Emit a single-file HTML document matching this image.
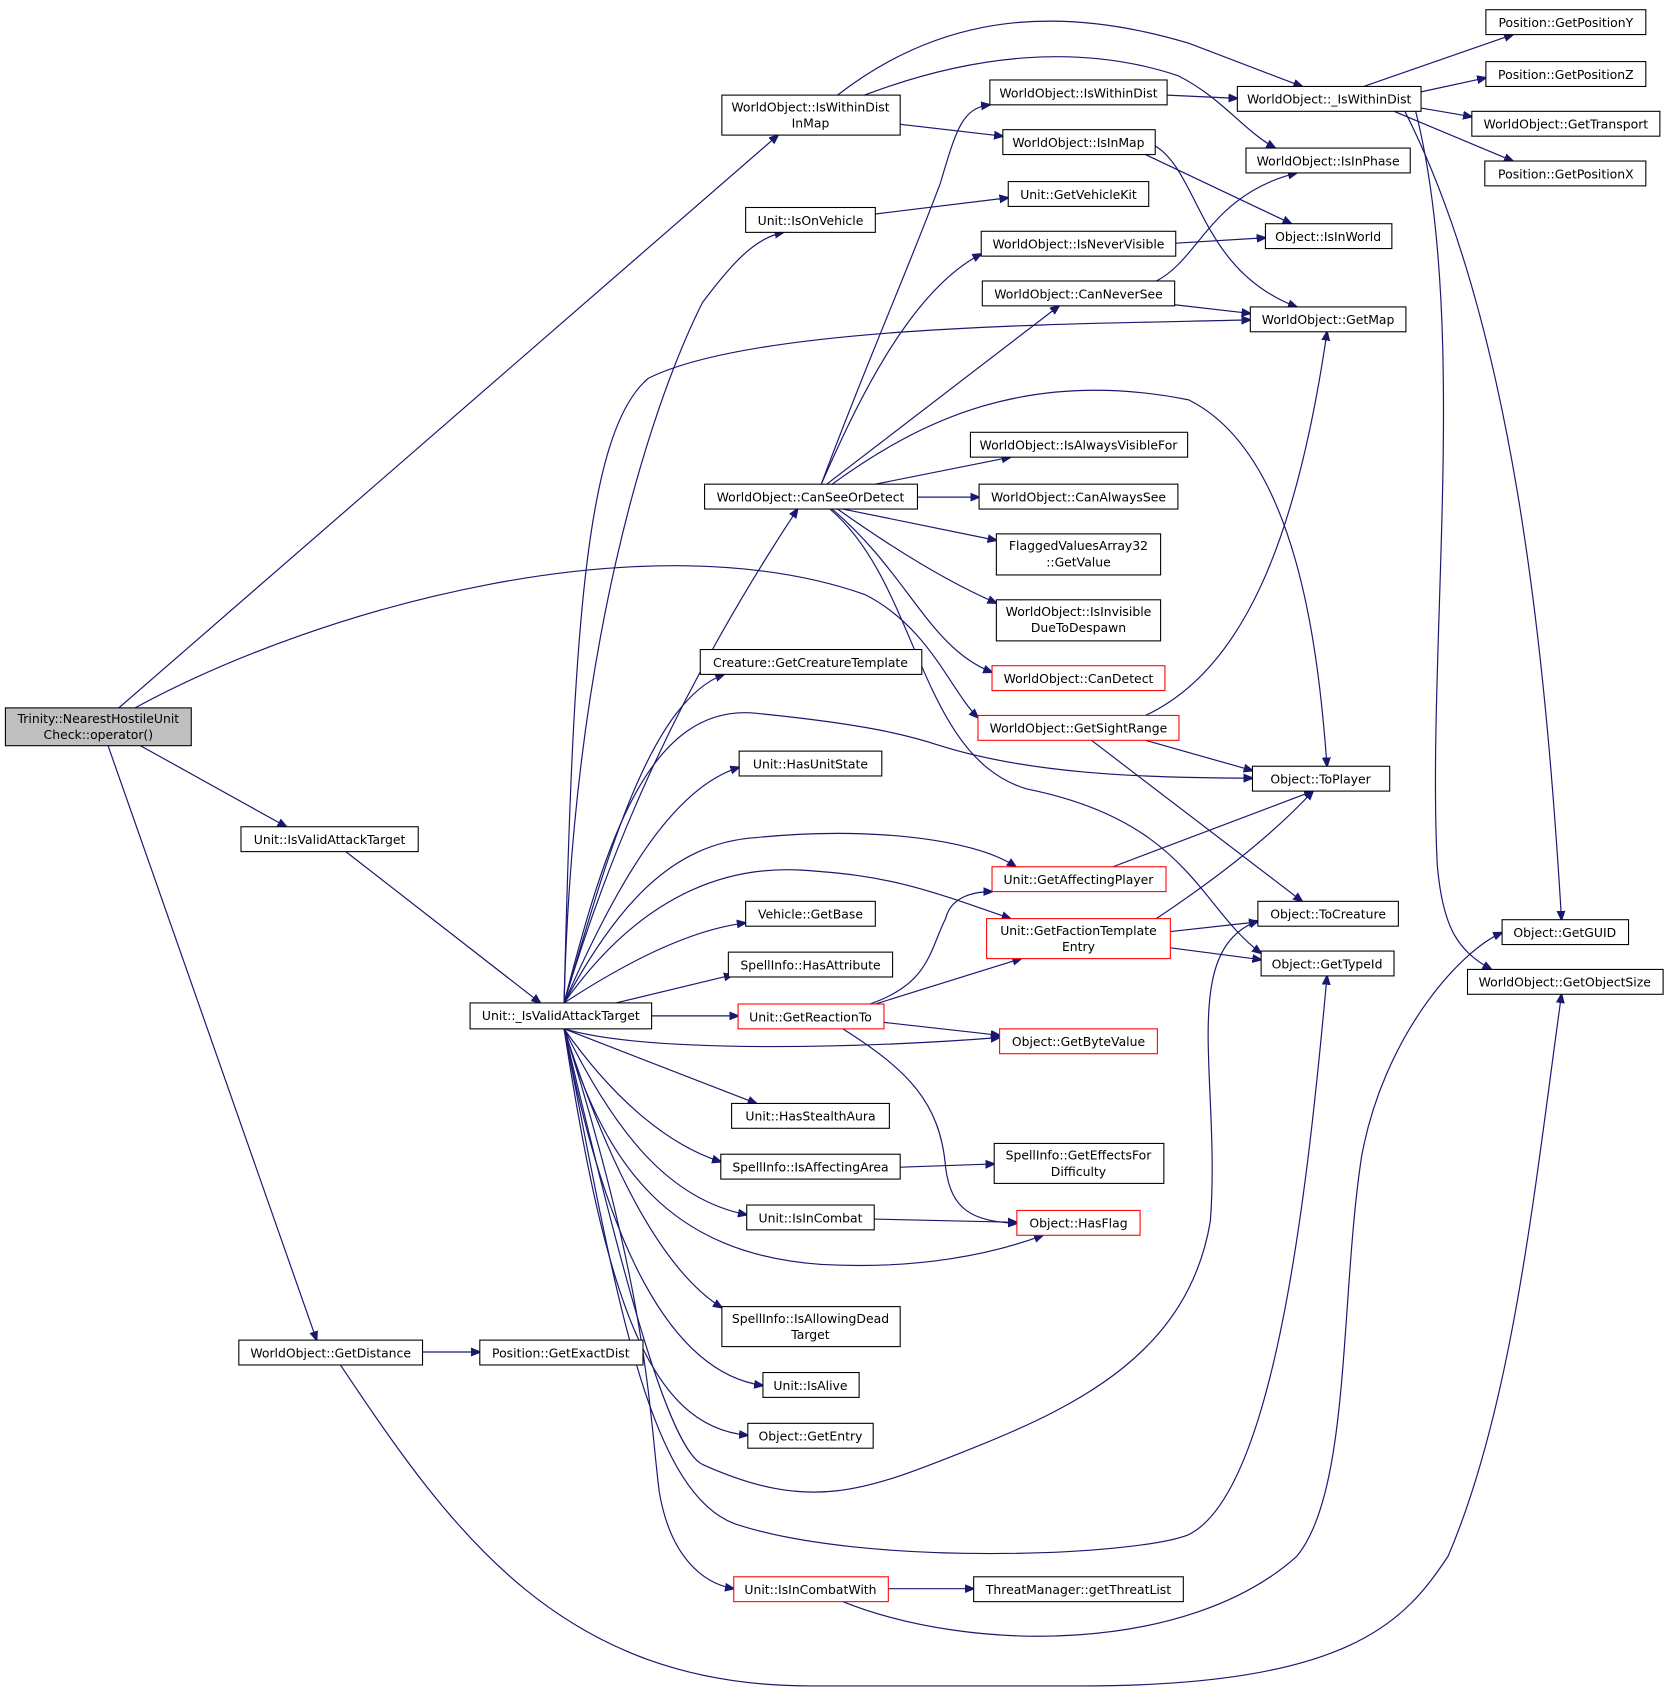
<!DOCTYPE html>
<html><head><meta charset="utf-8"><style>
html,body{margin:0;padding:0;background:#fff}
svg{display:block}
text{font-family:"DejaVu Sans","Liberation Sans",sans-serif;font-size:11.5px;fill:#000}
.b{fill:#fff;stroke:#000;stroke-width:1}
.r{fill:#fff;stroke:#f00;stroke-width:1}
.e{fill:none;stroke:#191970;stroke-width:1.1;marker-end:url(#a)}
</style></head><body>
<svg width="1675" height="1700" viewBox="0 0 1550 1573" preserveAspectRatio="none">
<defs><marker id="a" viewBox="0 0 10 10" refX="9" refY="5" markerWidth="9" markerHeight="9" markerUnits="userSpaceOnUse" orient="auto"><path d="M0,1 L10,5 L0,9 z" fill="#191970" stroke="#191970"/></marker></defs>
<g>
<path class="e" d="M110,655 L720,125"/>
<path class="e" d="M125,655 C300,560 600,480 800,550 C860,580 880,640 905,664"/>
<path class="e" d="M130,690 L265,765"/>
<path class="e" d="M100,690 L293,1240"/>
<path class="e" d="M320,788 L500,928"/>
<path class="e" d="M391,1251 L444,1251"/>
<path class="e" d="M315,1263 C420,1420 520,1560 750,1560 L1000,1560 C1250,1560 1300,1500 1340,1440 C1400,1300 1420,1100 1445,920"/>
<path class="e" d="M775,88 C850,30 950,-5 1100,40 L1205,80"/>
<path class="e" d="M800,88 C900,50 1000,40 1090,70 C1130,90 1150,120 1180,137"/>
<path class="e" d="M833,115 L928,126"/>
<path class="e" d="M1080,88 L1145,91"/>
<path class="e" d="M1262,80 L1400,32"/>
<path class="e" d="M1315,85 L1375,72"/>
<path class="e" d="M1315,100 L1362,108"/>
<path class="e" d="M1290,103 L1400,149"/>
<path class="e" d="M1300,103 C1400,300 1430,600 1445,851"/>
<path class="e" d="M1310,103 C1360,300 1320,600 1330,800 C1335,860 1350,880 1380,897"/>
<path class="e" d="M1060,143 L1195,207"/>
<path class="e" d="M1069,135 C1110,160 1110,250 1200,284"/>
<path class="e" d="M810,198 L933,183"/>
<path class="e" d="M1088,225 L1171,220"/>
<path class="e" d="M1070,260 C1110,240 1120,180 1200,160"/>
<path class="e" d="M1087,282 L1157,290"/>
<path class="e" d="M760,448 C800,340 840,250 870,170 C885,120 890,100 916,97"/>
<path class="e" d="M760,448 C790,380 840,270 908,235"/>
<path class="e" d="M765,448 L980,283"/>
<path class="e" d="M810,448 L935,423"/>
<path class="e" d="M849,460 L906,460"/>
<path class="e" d="M780,471 L922,500"/>
<path class="e" d="M775,471 C830,510 880,540 922,558"/>
<path class="e" d="M770,471 C840,530 860,600 918,622"/>
<path class="e" d="M770,448 C850,390 950,340 1100,370 C1200,420 1220,600 1228,709"/>
<path class="e" d="M768,471 C850,540 850,700 950,730 C1100,760 1110,840 1167,882"/>
<path class="e" d="M522,928 C530,600 600,380 650,280 C680,240 700,220 725,215"/>
<path class="e" d="M522,928 C530,600 540,400 600,350 C700,300 1000,300 1157,296"/>
<path class="e" d="M522,928 C560,800 620,650 738,471"/>
<path class="e" d="M522,928 C560,800 600,650 670,624"/>
<path class="e" d="M522,928 C560,780 600,650 700,660 C800,670 840,680 870,690 C950,715 1050,720 1159,720"/>
<path class="e" d="M522,928 C570,820 620,730 684,710"/>
<path class="e" d="M522,928 C570,840 620,780 700,775 C800,765 900,775 940,802"/>
<path class="e" d="M522,928 C570,860 640,800 740,805 C820,810 850,820 935,850"/>
<path class="e" d="M522,928 C580,890 640,860 690,854"/>
<path class="e" d="M570,928 L678,902"/>
<path class="e" d="M603,940 L683,940"/>
<path class="e" d="M522,952 C600,975 800,970 925,960"/>
<path class="e" d="M522,952 L700,1021"/>
<path class="e" d="M522,952 C570,1020 620,1060 667,1075"/>
<path class="e" d="M522,952 C570,1050 620,1110 691,1124"/>
<path class="e" d="M522,952 C560,1080 620,1160 760,1170 C850,1175 920,1160 965,1143"/>
<path class="e" d="M522,952 C570,1100 620,1180 668,1210"/>
<path class="e" d="M522,952 C560,1150 620,1270 706,1282"/>
<path class="e" d="M522,952 C560,1200 600,1320 692,1328"/>
<path class="e" d="M522,952 C600,1200 600,1300 610,1380 C620,1440 650,1465 679,1470"/>
<path class="e" d="M522,952 C580,1200 620,1340 650,1355 C750,1400 800,1380 900,1340 C1000,1300 1100,1250 1120,1130 C1130,1000 1090,880 1164,852"/>
<path class="e" d="M522,952 C570,1200 600,1380 680,1410 C800,1450 1050,1440 1100,1420 C1180,1380 1210,1100 1228,903"/>
<path class="e" d="M1060,662 C1150,620 1200,500 1228,307"/>
<path class="e" d="M1060,685 L1159,713"/>
<path class="e" d="M1010,685 L1205,834"/>
<path class="e" d="M1030,802 L1215,732"/>
<path class="e" d="M1070,850 C1130,810 1180,770 1215,732"/>
<path class="e" d="M1083,862 L1164,853"/>
<path class="e" d="M1083,877 L1167,888"/>
<path class="e" d="M805,929 C860,910 860,880 875,850 C880,830 900,825 918,825"/>
<path class="e" d="M810,929 L945,887"/>
<path class="e" d="M818,946 L925,958"/>
<path class="e" d="M780,952 C840,990 870,1020 875,1080 C880,1120 900,1130 941,1132"/>
<path class="e" d="M833,1080 L920,1077"/>
<path class="e" d="M809,1128 L941,1131"/>
<path class="e" d="M822,1470 L901,1470"/>
<path class="e" d="M780,1482 C900,1530 1100,1530 1200,1440 C1250,1380 1240,1200 1260,1070 C1280,960 1350,880 1390,863"/>
</g>
<g text-anchor="middle">
<rect x="5" y="655" width="172" height="35" fill="#bfbfbf" stroke="#000"/><text x="91" y="669">Trinity::NearestHostileUnit</text><text x="91" y="684">Check::operator()</text>
<rect class="b" x="668" y="88" width="165" height="37"/><text x="750" y="103">WorldObject::IsWithinDist</text><text x="750" y="118">InMap</text>
<rect class="b" x="223" y="765" width="164" height="23"/><text x="305" y="781">Unit::IsValidAttackTarget</text>
<rect class="b" x="221" y="1240" width="170" height="23"/><text x="306" y="1256">WorldObject::GetDistance</text>
<rect class="b" x="444" y="1240" width="151" height="23"/><text x="519" y="1256">Position::GetExactDist</text>
<rect class="b" x="435" y="928" width="168" height="24"/><text x="519" y="944">Unit::_IsValidAttackTarget</text>
<rect class="b" x="916" y="74" width="164" height="23"/><text x="998" y="90">WorldObject::IsWithinDist</text>
<rect class="b" x="928" y="120" width="141" height="23"/><text x="998" y="136">WorldObject::IsInMap</text>
<rect class="b" x="690" y="192" width="120" height="23"/><text x="750" y="208">Unit::IsOnVehicle</text>
<rect class="b" x="933" y="168" width="130" height="23"/><text x="998" y="184">Unit::GetVehicleKit</text>
<rect class="b" x="908" y="214" width="180" height="23"/><text x="998" y="230">WorldObject::IsNeverVisible</text>
<rect class="b" x="909" y="260" width="178" height="23"/><text x="998" y="276">WorldObject::CanNeverSee</text>
<rect class="b" x="652" y="448" width="197" height="23"/><text x="750" y="464">WorldObject::CanSeeOrDetect</text>
<rect class="b" x="898" y="400" width="201" height="23"/><text x="998" y="416">WorldObject::IsAlwaysVisibleFor</text>
<rect class="b" x="906" y="448" width="184" height="23"/><text x="998" y="464">WorldObject::CanAlwaysSee</text>
<rect class="b" x="922" y="494" width="152" height="38"/><text x="998" y="509">FlaggedValuesArray32</text><text x="998" y="524">::GetValue</text>
<rect class="b" x="922" y="555" width="152" height="38"/><text x="998" y="570">WorldObject::IsInvisible</text><text x="998" y="585">DueToDespawn</text>
<rect class="r" x="918" y="616" width="160" height="23"/><text x="998" y="632">WorldObject::CanDetect</text>
<rect class="r" x="905" y="662" width="186" height="23"/><text x="998" y="678">WorldObject::GetSightRange</text>
<rect class="b" x="648" y="601" width="205" height="23"/><text x="750" y="617">Creature::GetCreatureTemplate</text>
<rect class="b" x="684" y="695" width="132" height="23"/><text x="750" y="711">Unit::HasUnitState</text>
<rect class="r" x="918" y="802" width="161" height="23"/><text x="998" y="818">Unit::GetAffectingPlayer</text>
<rect class="r" x="913" y="850" width="170" height="37"/><text x="998" y="865">Unit::GetFactionTemplate</text><text x="998" y="880">Entry</text>
<rect class="b" x="690" y="834" width="120" height="23"/><text x="750" y="850">Vehicle::GetBase</text>
<rect class="b" x="674" y="881" width="152" height="23"/><text x="750" y="897">SpellInfo::HasAttribute</text>
<rect class="r" x="683" y="929" width="135" height="23"/><text x="750" y="945">Unit::GetReactionTo</text>
<rect class="r" x="925" y="952" width="146" height="23"/><text x="998" y="968">Object::GetByteValue</text>
<rect class="b" x="677" y="1021" width="146" height="23"/><text x="750" y="1037">Unit::HasStealthAura</text>
<rect class="b" x="667" y="1068" width="166" height="23"/><text x="750" y="1084">SpellInfo::IsAffectingArea</text>
<rect class="b" x="920" y="1058" width="157" height="37"/><text x="998" y="1073">SpellInfo::GetEffectsFor</text><text x="998" y="1088">Difficulty</text>
<rect class="b" x="691" y="1115" width="118" height="23"/><text x="750" y="1131">Unit::IsInCombat</text>
<rect class="r" x="941" y="1120" width="114" height="23"/><text x="998" y="1136">Object::HasFlag</text>
<rect class="b" x="668" y="1209" width="165" height="37"/><text x="750" y="1224">SpellInfo::IsAllowingDead</text><text x="750" y="1239">Target</text>
<rect class="b" x="706" y="1270" width="89" height="23"/><text x="750" y="1286">Unit::IsAlive</text>
<rect class="b" x="692" y="1317" width="116" height="23"/><text x="750" y="1333">Object::GetEntry</text>
<rect class="r" x="679" y="1459" width="143" height="23"/><text x="750" y="1475">Unit::IsInCombatWith</text>
<rect class="b" x="901" y="1459" width="194" height="23"/><text x="998" y="1475">ThreatManager::getThreatList</text>
<rect class="b" x="1145" y="80" width="170" height="23"/><text x="1230" y="96">WorldObject::_IsWithinDist</text>
<rect class="b" x="1153" y="137" width="152" height="23"/><text x="1229" y="153">WorldObject::IsInPhase</text>
<rect class="b" x="1171" y="207" width="117" height="23"/><text x="1229" y="223">Object::IsInWorld</text>
<rect class="b" x="1157" y="284" width="144" height="23"/><text x="1229" y="300">WorldObject::GetMap</text>
<rect class="b" x="1159" y="709" width="127" height="23"/><text x="1222" y="725">Object::ToPlayer</text>
<rect class="b" x="1164" y="834" width="130" height="23"/><text x="1229" y="850">Object::ToCreature</text>
<rect class="b" x="1167" y="880" width="123" height="23"/><text x="1228" y="896">Object::GetTypeId</text>
<rect class="b" x="1375" y="9" width="148" height="23"/><text x="1449" y="25">Position::GetPositionY</text>
<rect class="b" x="1375" y="57" width="148" height="23"/><text x="1449" y="73">Position::GetPositionZ</text>
<rect class="b" x="1362" y="103" width="174" height="23"/><text x="1449" y="119">WorldObject::GetTransport</text>
<rect class="b" x="1374" y="149" width="149" height="23"/><text x="1449" y="165">Position::GetPositionX</text>
<rect class="b" x="1390" y="851" width="117" height="23"/><text x="1448" y="867">Object::GetGUID</text>
<rect class="b" x="1358" y="897" width="181" height="23"/><text x="1448" y="913">WorldObject::GetObjectSize</text>
</g>
</svg>
</body></html>
